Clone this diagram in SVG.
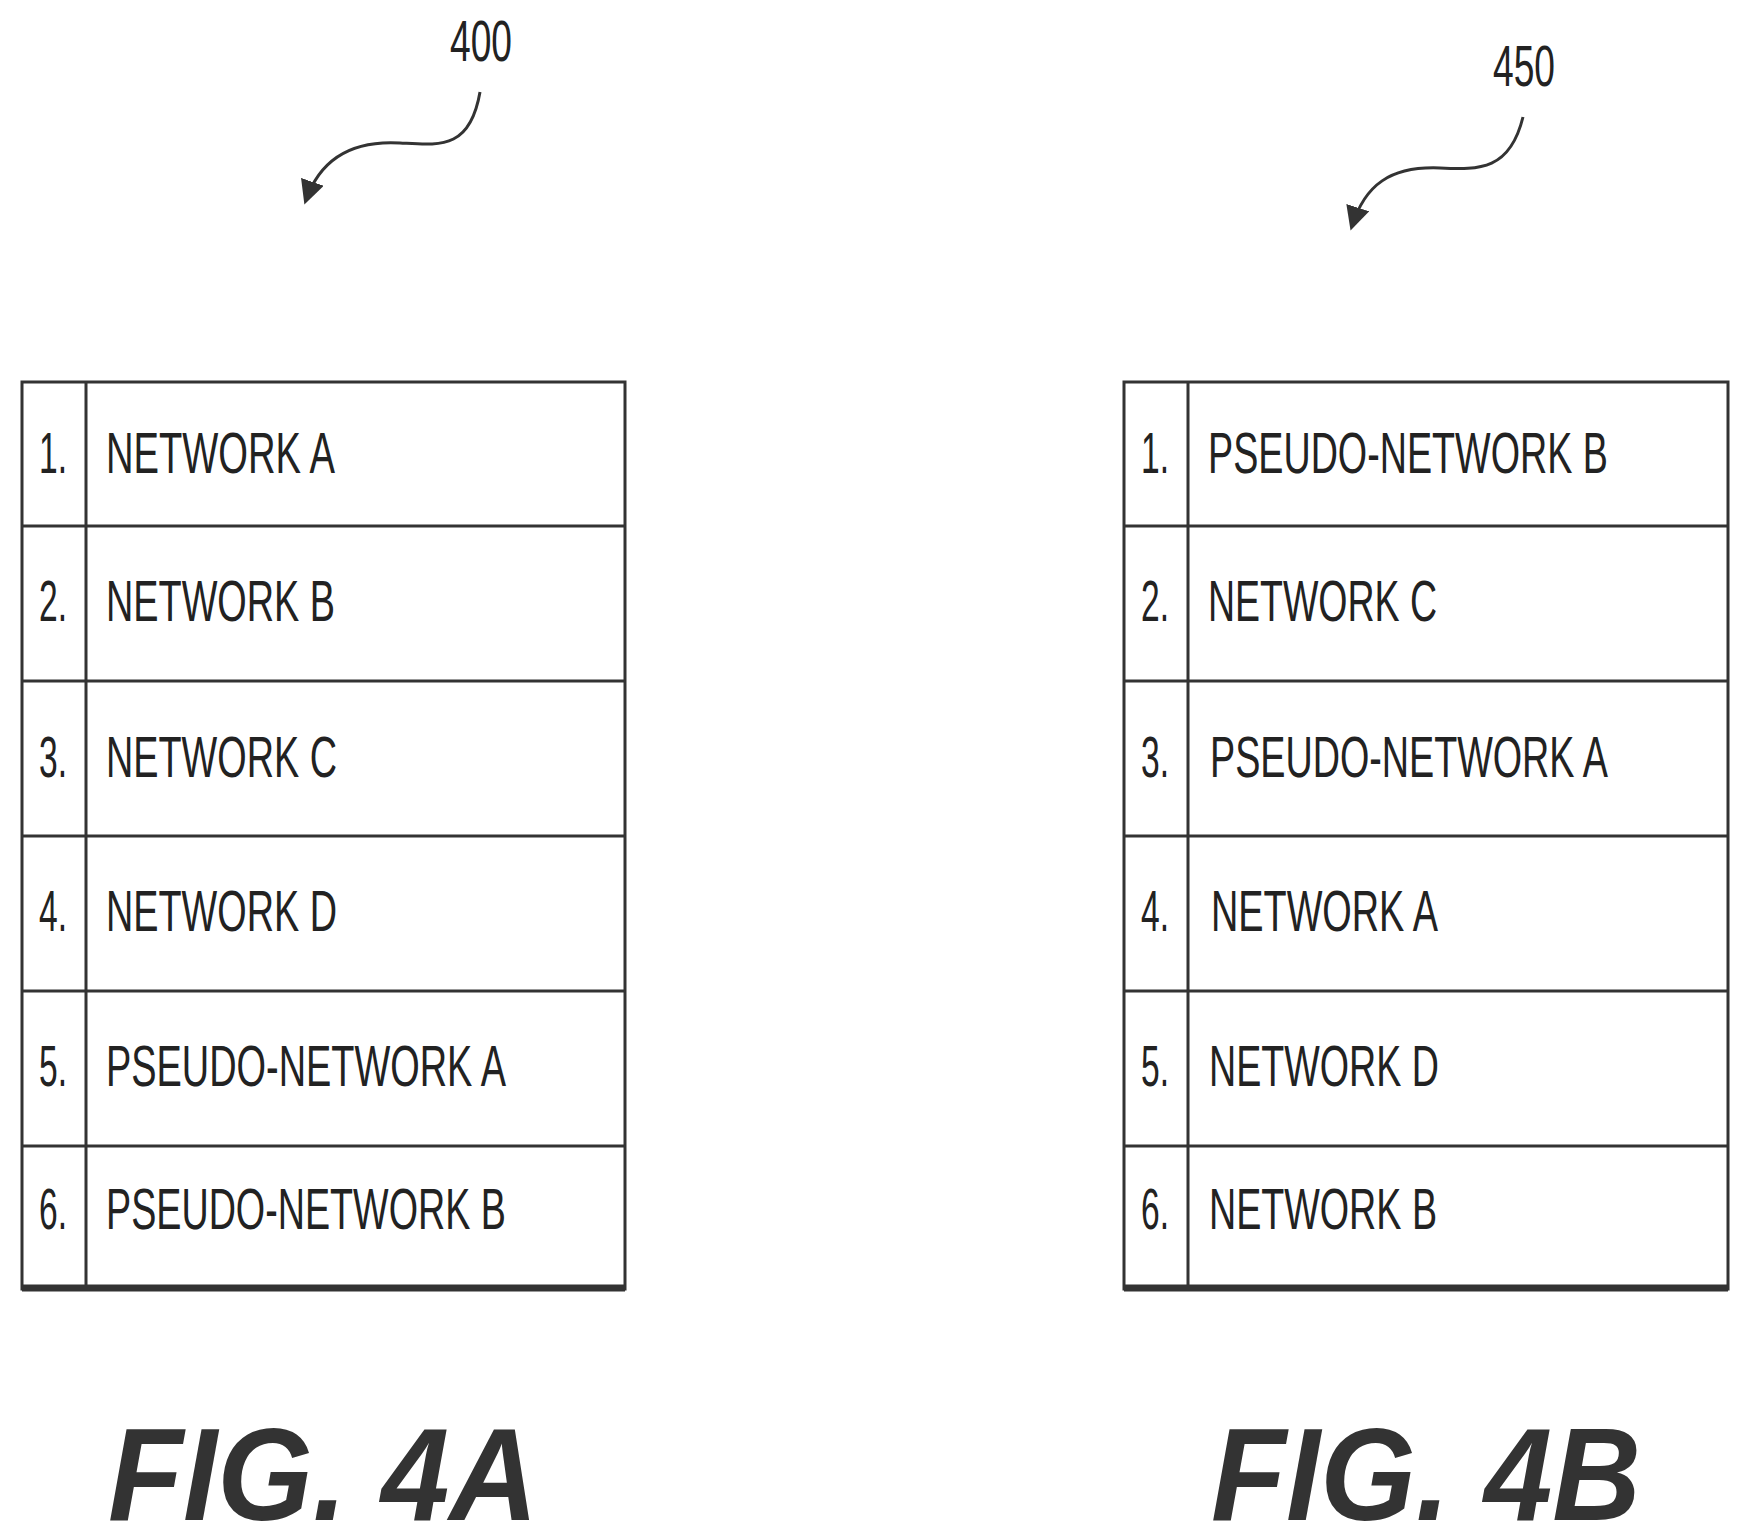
<svg xmlns="http://www.w3.org/2000/svg" width="1750" height="1540" viewBox="0 0 1750 1540">
<style>
.t{font-family:"Liberation Sans",Arial,sans-serif;font-size:58px;fill:#222}
.f{font-family:"Liberation Sans",Arial,sans-serif;font-size:132px;font-weight:bold;font-style:italic;fill:#333}
.b{fill:none;stroke:#333;stroke-width:3}
.bb{stroke:#333;stroke-width:7}
.c{fill:none;stroke:#333;stroke-width:3}
</style>
<defs><marker id="ah" viewBox="0 0 10 10" refX="8" refY="5" markerWidth="8" markerHeight="8" orient="auto"><path d="M0,0 L10,5 L0,10 z" fill="#333"/></marker></defs>
<g id="label400"><text class="t" x="450" y="61" textLength="62" lengthAdjust="spacingAndGlyphs" font-size="50">400</text></g>
<g id="label450"><text class="t" x="1493" y="86" textLength="62" lengthAdjust="spacingAndGlyphs" font-size="50">450</text></g>
<g id="connectors">
<path class="c" d="M480,92 C470,150 440,145 400,143 C350,140 320,160 306,200" marker-end="url(#ah)"/>
<path class="c" d="M1523,117 C1510,170 1480,170 1440,168 C1390,166 1365,185 1352,226" marker-end="url(#ah)"/>
</g>
<g id="table4A">
<rect class="b" x="22" y="382" width="603" height="907"/>
<line class="b" x1="86" y1="382" x2="86" y2="1289"/>
<line class="b" x1="22" y1="526" x2="625" y2="526"/>
<line class="b" x1="22" y1="681" x2="625" y2="681"/>
<line class="b" x1="22" y1="836" x2="625" y2="836"/>
<line class="b" x1="22" y1="991" x2="625" y2="991"/>
<line class="b" x1="22" y1="1146" x2="625" y2="1146"/>
<line class="bb" x1="22" y1="1288" x2="625" y2="1288"/>
<text class="t" x="39" y="473" textLength="28" lengthAdjust="spacingAndGlyphs">1.</text>
<text class="t" x="39" y="621" textLength="28" lengthAdjust="spacingAndGlyphs">2.</text>
<text class="t" x="39" y="777" textLength="28" lengthAdjust="spacingAndGlyphs">3.</text>
<text class="t" x="39" y="931" textLength="28" lengthAdjust="spacingAndGlyphs">4.</text>
<text class="t" x="39" y="1086" textLength="28" lengthAdjust="spacingAndGlyphs">5.</text>
<text class="t" x="39" y="1229" textLength="28" lengthAdjust="spacingAndGlyphs">6.</text>
<text class="t" x="106" y="473" textLength="229" lengthAdjust="spacingAndGlyphs">NETWORK A</text>
<text class="t" x="106" y="621" textLength="229" lengthAdjust="spacingAndGlyphs">NETWORK B</text>
<text class="t" x="106" y="777" textLength="231" lengthAdjust="spacingAndGlyphs">NETWORK C</text>
<text class="t" x="106" y="931" textLength="231" lengthAdjust="spacingAndGlyphs">NETWORK D</text>
<text class="t" x="106" y="1086" textLength="400" lengthAdjust="spacingAndGlyphs">PSEUDO-NETWORK A</text>
<text class="t" x="106" y="1229" textLength="400" lengthAdjust="spacingAndGlyphs">PSEUDO-NETWORK B</text>
</g>
<g id="table4B">
<rect class="b" x="1124" y="382" width="604" height="907"/>
<line class="b" x1="1188" y1="382" x2="1188" y2="1289"/>
<line class="b" x1="1124" y1="526" x2="1728" y2="526"/>
<line class="b" x1="1124" y1="681" x2="1728" y2="681"/>
<line class="b" x1="1124" y1="836" x2="1728" y2="836"/>
<line class="b" x1="1124" y1="991" x2="1728" y2="991"/>
<line class="b" x1="1124" y1="1146" x2="1728" y2="1146"/>
<line class="bb" x1="1124" y1="1288" x2="1728" y2="1288"/>
<text class="t" x="1141" y="473" textLength="28" lengthAdjust="spacingAndGlyphs">1.</text>
<text class="t" x="1141" y="621" textLength="28" lengthAdjust="spacingAndGlyphs">2.</text>
<text class="t" x="1141" y="777" textLength="28" lengthAdjust="spacingAndGlyphs">3.</text>
<text class="t" x="1141" y="931" textLength="28" lengthAdjust="spacingAndGlyphs">4.</text>
<text class="t" x="1141" y="1086" textLength="28" lengthAdjust="spacingAndGlyphs">5.</text>
<text class="t" x="1141" y="1229" textLength="28" lengthAdjust="spacingAndGlyphs">6.</text>
<text class="t" x="1208" y="473" textLength="400" lengthAdjust="spacingAndGlyphs">PSEUDO-NETWORK B</text>
<text class="t" x="1208" y="621" textLength="229" lengthAdjust="spacingAndGlyphs">NETWORK C</text>
<text class="t" x="1210" y="777" textLength="398" lengthAdjust="spacingAndGlyphs">PSEUDO-NETWORK A</text>
<text class="t" x="1211" y="931" textLength="227" lengthAdjust="spacingAndGlyphs">NETWORK A</text>
<text class="t" x="1209" y="1086" textLength="230" lengthAdjust="spacingAndGlyphs">NETWORK D</text>
<text class="t" x="1209" y="1229" textLength="228" lengthAdjust="spacingAndGlyphs">NETWORK B</text>
</g>
<g id="fig4A"><text class="f" x="108" y="1520" textLength="430" lengthAdjust="spacingAndGlyphs">FIG. 4A</text></g>
<g id="fig4B"><text class="f" x="1211" y="1520" textLength="430" lengthAdjust="spacingAndGlyphs">FIG. 4B</text></g>
</svg>
